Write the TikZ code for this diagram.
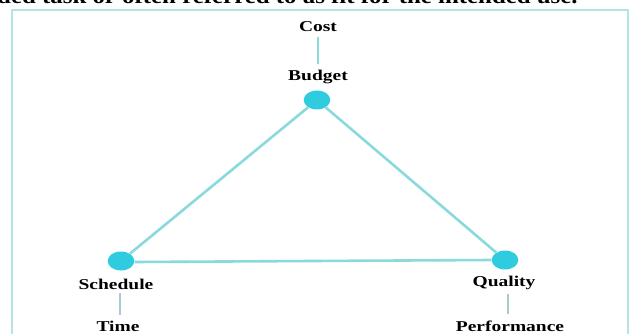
\documentclass[tikz,border=0pt]{standalone}
\usepackage{fontspec}
\setmainfont{Liberation Serif}
\definecolor{dotc}{HTML}{2FCCE0}
\definecolor{linec}{HTML}{8ADADD}
\definecolor{framec}{HTML}{B2E4E4}
\definecolor{stemc}{HTML}{A9C9CC}
\begin{document}
\begin{tikzpicture}[x=1pt,y=-1pt,
  lbl/.style={font=\fontsize{15}{18}\selectfont\bfseries, inner sep=0pt, xscale=1.3},
  dotn/.style={circle, fill=dotc, inner sep=0pt, minimum size=19pt, xscale=1.4},
  side/.style={draw=linec, line width=2.6pt},
  stem/.style={draw=stemc, line width=2pt}]
\useasboundingbox (0,0) rectangle (635,334);
\fill[white] (0,0) rectangle (635,334);
\begin{scope}
\clip (0,0) rectangle (635,334);
\node[font=\fontsize{22}{26}\selectfont\bfseries, anchor=base west, inner sep=0pt, xscale=1.13] (top) at (-3,4) {ded task or often referred to as fit for the intended use.};
\draw[framec, line width=2pt] (12,10) rectangle (628,345);
\end{scope}
\node[lbl] (cost) at (318,27) {Cost};
\node[lbl] (budgetl) at (318,77) {Budget};
\node[lbl] (schedl) at (116,284) {Schedule};
\node[lbl] (time) at (118,326) {Time};
\node[lbl] (qual) at (504,283) {Quality};
\node[lbl] (perf) at (510,326) {Performance};
\node[dotn] (budget) at (317,100) {};
\node[dotn] (sched) at (121,261) {};
\node[dotn] (quality) at (505,260) {};
\draw[side] (budget) -- (sched);
\draw[side] (budget) -- (quality);
\draw[side] ([yshift=-1pt]sched.east) -- ([yshift=-0pt]quality.west);
\draw[stem, draw=linec] ([yshift=-5pt]cost.south) -- ([yshift=6pt]budgetl.north);
\draw[stem] ([xshift=4pt,yshift=-4pt]schedl.south) -- ([xshift=2pt,yshift=6pt]time.north);
\draw[stem] ([xshift=4pt,yshift=-4pt]qual.south) -- ([xshift=-2pt,yshift=6pt]perf.north);
\end{tikzpicture}
\end{document}
